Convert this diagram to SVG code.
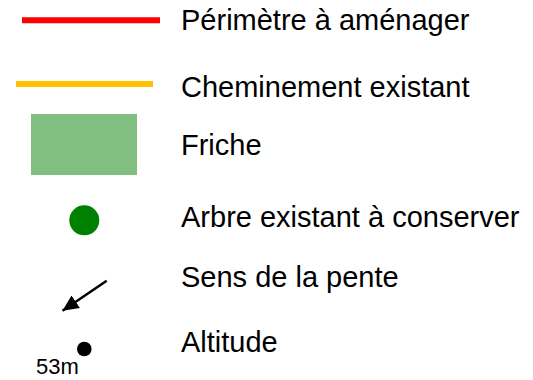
<svg xmlns="http://www.w3.org/2000/svg" width="533" height="380" viewBox="0 0 533 380">
<style>
.lbl{font-family:"Liberation Sans","DejaVu Sans",sans-serif;font-size:29px;fill:#000}
.sm{font-family:"Liberation Sans","DejaVu Sans",sans-serif;font-size:22px;fill:#000}
</style>
<defs>
<marker id="ah" markerWidth="16" markerHeight="15" refX="16" refY="7.5" orient="auto" markerUnits="userSpaceOnUse" viewBox="0 0 16 15">
<path d="M0,0 L16,7.5 L0,15 Z" fill="#000"/>
</marker>
</defs>
<rect width="533" height="380" fill="#fff"/>
<g id="perimetre">
<line x1="22" y1="20.3" x2="160" y2="20.3" stroke="#FF0000" stroke-width="6"/>
<text class="lbl" x="181" y="30">Périmètre à aménager</text>
</g>
<g id="cheminement">
<line x1="16" y1="84" x2="153" y2="84" stroke="#FFC000" stroke-width="6"/>
<text class="lbl" x="181" y="97">Cheminement existant</text>
</g>
<g id="friche">
<rect x="31" y="114" width="106" height="61" fill="#80BF80"/>
<text class="lbl" x="181" y="155">Friche</text>
</g>
<g id="arbre">
<circle cx="84.3" cy="220.3" r="15" fill="#008000"/>
<text class="lbl" x="181" y="227">Arbre existant à conserver</text>
</g>
<g id="pente">
<text class="lbl" x="181" y="287">Sens de la pente</text>
</g>
<g id="altitude">
<circle cx="84.3" cy="349" r="7.3" fill="#000"/>
<text class="sm" x="36" y="374">53m</text>
<text class="lbl" x="181" y="352">Altitude</text>
</g>
<g id="connectors">
<line x1="106.7" y1="280.7" x2="62.5" y2="310.7" stroke="#000" stroke-width="2.5" marker-end="url(#ah)"/>
</g>
</svg>
